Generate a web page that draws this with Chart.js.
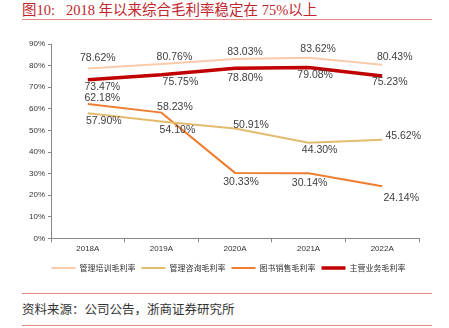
<!DOCTYPE html>
<html><head><meta charset="utf-8">
<script src="https://cdn.jsdelivr.net/npm/chart.js@4/dist/chart.umd.min.js"></script>
<style>
html,body{margin:0;padding:0;background:#fff;width:449px;height:328px;overflow:hidden;position:relative;font-family:"Liberation Serif","Noto Sans CJK SC",serif;}
#title{position:absolute;left:22px;top:-2px;font-size:14.5px;color:#C0262C;white-space:pre;font-family:"Liberation Serif","Noto Sans CJK SC",serif;}
.rule{position:absolute;left:22px;width:410px;height:1px;background:#E48A86;}
#src{position:absolute;left:22px;top:299px;font-size:12.5px;color:#333;font-family:"Noto Sans CJK SC",sans-serif;}
#wrap{position:absolute;left:0;top:0;width:449px;height:288px;}
</style></head><body>
<div id="title">图10:   2018 年以来综合毛利率稳定在 75%以上</div>
<div class="rule" style="top:19px"></div>
<div id="wrap"><canvas id="c" width="449" height="288"></canvas></div>
<div class="rule" style="top:293px"></div>
<div id="src">资料来源：公司公告，浙商证券研究所</div>
<div class="rule" style="top:325px"></div>
<script>
const categories = ["2018A","2019A","2020A","2021A","2022A"];
const trainingMargin = [78.62, 80.76, 83.03, 83.62, 80.43];
const consultingMargin = [57.90, 54.10, 50.91, 44.30, 45.62];
const bookMargin = [62.18, 58.23, 30.33, 30.14, 24.14];
const mainMargin = [73.47, 75.75, 78.80, 79.08, 75.23];
const yTicks = [0,10,20,30,40,50,60,70,80,90];

// label offsets [dx, dy] relative to each point (styling)
const labelOffsets = [
  [[10,-10.5],[13,-7],[10,-6.5],[9.5,-8.5],[12.5,-7.5]],
  [[16,8],[16,9],[16,-3.7],[11,7.3],[21,-4]],
  [[14.5,-6.3],[13.5,-6],[6,9.4],[1,9.6],[19,12]],
  [[14.5,7.2],[19,7.8],[10,10.4],[6.5,7.6],[7.5,6]]
];

const labelPlugin = {
  id: 'valLabels',
  afterLayout(chart) {
    if (chart.legend) { chart.legend.left += 6; chart.legend.right += 6; }
  },
  afterDatasetsDraw(chart) {
    const ctx = chart.ctx;
    ctx.save();
    ctx.font = '10.5px "Liberation Sans", Arial, sans-serif';
    ctx.fillStyle = '#404040';
    ctx.textBaseline = 'middle';
    ctx.textAlign = 'center';
    chart.data.datasets.forEach((ds, di) => {
      const meta = chart.getDatasetMeta(di);
      meta.data.forEach((pt, i) => {
        const txt = ds.data[i].toFixed(2) + '%';
        const o = labelOffsets[di][i];
        ctx.fillText(txt, pt.x + o[0], pt.y + o[1]);
      });
    });
    ctx.restore();
  }
};

new Chart(document.getElementById('c'), {
  type: 'line',
  data: {
    labels: categories,
    datasets: [
      {label:'管理培训毛利率', data: trainingMargin, borderColor:'#F8CBAD', backgroundColor:'#F8CBAD', borderWidth:2, pointRadius:0, tension:0},
      {label:'管理咨询毛利率', data: consultingMargin, borderColor:'#E2BC6E', backgroundColor:'#E2BC6E', borderWidth:2, pointRadius:0, tension:0},
      {label:'图书销售毛利率', data: bookMargin, borderColor:'#ED7D31', backgroundColor:'#ED7D31', borderWidth:2, pointRadius:0, tension:0},
      {label:'主营业务毛利率', data: mainMargin, borderColor:'#C00000', backgroundColor:'#C00000', borderWidth:3.5, pointRadius:0, tension:0}
    ]
  },
  options: {
    responsive:false, animation:false,
    layout:{padding:{left:26, right:30, top:44, bottom:6}},
    plugins:{
      tooltip:{enabled:false},
      legend:{position:'bottom', labels:{usePointStyle:true, pointStyle:'line', pointStyleWidth:24, boxWidth:24, boxHeight:8, padding:6,
        font:{size:8, family:'"Noto Sans CJK SC", sans-serif'}, color:'#333'}}
    },
    scales:{
      x:{offset:true,
        afterFit(s){ s.height += 2; },
        grid:{offset:true, drawOnChartArea:false, drawTicks:true, tickLength:4, color:'#888'},
        border:{color:'#888'},
        ticks:{font:{size:8, family:'"Liberation Sans", Arial, sans-serif'}, color:'#333', padding:2}},
      y:{min:0, max:90,
        afterBuildTicks(s){ s.ticks = yTicks.map(v=>({value:v})); },
        grid:{drawOnChartArea:false, drawTicks:true, tickLength:3, color:'#888'},
        border:{color:'#888'},
        ticks:{font:{size:8, family:'"Liberation Sans", Arial, sans-serif'}, color:'#333', padding:3, callback:v=>v+'%'}}
    }
  },
  plugins:[labelPlugin]
});
</script>
</body></html>
